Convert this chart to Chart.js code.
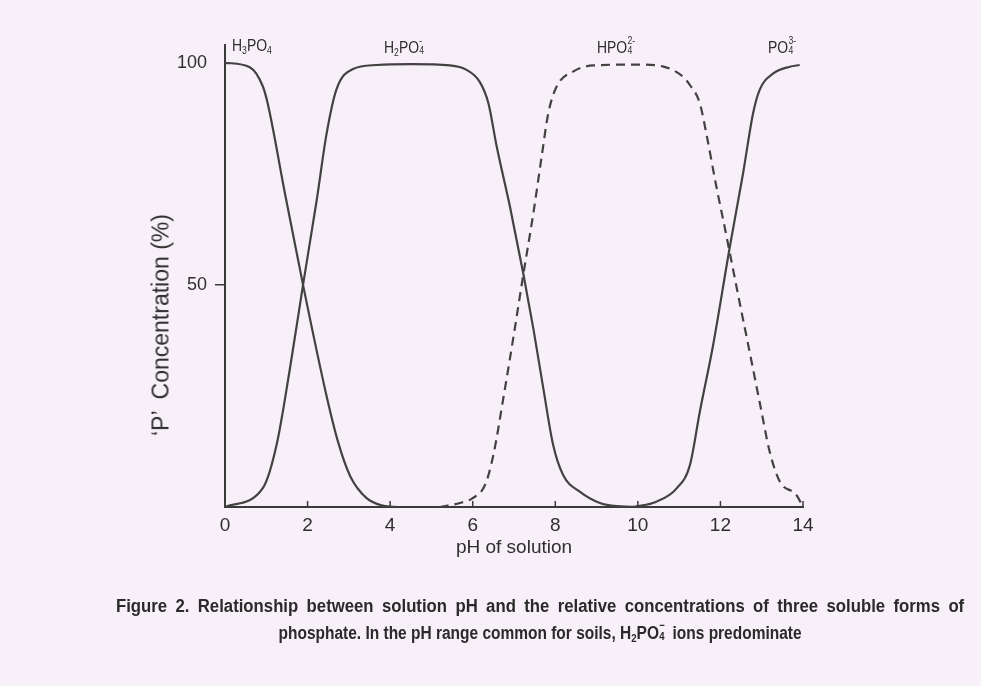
<!DOCTYPE html>
<html>
<head>
<meta charset="utf-8">
<script src="https://cdn.jsdelivr.net/npm/chart.js@4.4.1/dist/chart.umd.min.js"></script>
<style>
  html, body { margin: 0; padding: 0; }
  body { width: 981px; height: 686px; background: #f8f0f8; position: relative; overflow: hidden;
         font-family: 'Liberation Sans', Arial, sans-serif; color: #2e2e2e; }
  #chart { position: absolute; left: 0; top: 0; }
  .lbl { position: absolute; font-size: 17px; line-height: 20px; white-space: nowrap;
         transform: scaleX(0.82); transform-origin: left center; }
  .ss { display: inline-block; position: relative; width: 0.6em; height: 1em; vertical-align: baseline; }
  .ss .u, .ss .d { position: absolute; left: 0.04em; font-size: 0.62em; line-height: 1; }
  .ss .u { top: -0.12em; }
  .ss .d { top: 0.86em; }
  sub { font-size: 0.62em; line-height: 1; vertical-align: -0.3em; }
  #ytitle { position: absolute; left: 161px; top: 325px; transform: translate(-50%, -50%) rotate(-90deg);
            font-size: 23px; white-space: nowrap; }
  #ytitle .p { margin-right: 11px; }
  #caption { position: absolute; left: 0; width: 1080px; top: 593px; text-align: center;
             font-weight: bold; font-size: 18px; line-height: 27px; color: #2a2a2a; white-space: nowrap; }
  #caption .l1 { display: inline-block; transform: scaleX(0.93); word-spacing: 4px; }
  #caption .l2 { display: inline-block; transform: scaleX(0.86); }
</style>
</head>
<body>
<canvas id="chart" width="981" height="686"></canvas>

<div class="lbl" style="left:232px; top:36px;">H<sub>3</sub>PO<sub>4</sub></div>
<div class="lbl" style="left:384px; top:36px;">H<sub>2</sub>PO<span class="ss"><span class="u">-</span><span class="d">4</span></span></div>
<div class="lbl" style="left:597px; top:36px;">HPO<span class="ss"><span class="u">2-</span><span class="d">4</span></span></div>
<div class="lbl" style="left:768px; top:36px;">PO<span class="ss"><span class="u">3-</span><span class="d">4</span></span></div>

<div id="ytitle"><span class="p">‘P’</span>Concentration (%)</div>

<div id="caption"><span class="l1">Figure 2. Relationship between solution pH and the relative concentrations of three soluble forms of</span><br>
<span class="l2">phosphate. In the pH range common for soils, H<sub>2</sub>PO<span class="ss"><span class="u">−</span><span class="d">4</span></span> ions predominate</span></div>

<script>
/* ─── Data ───────────────────────────────────────────────── */
const X_TICKS = [0, 2, 4, 6, 8, 10, 12, 14];
const Y_TICKS = [50, 100];

const h3po4Ph  = [0, 0.6, 0.92, 1.04, 1.45, 1.89, 2.46, 2.74, 3.03, 3.43, 3.83, 4.2];
const h3po4Pct = [100, 99, 94.6, 90.6, 70.7, 50, 25, 14.6, 7, 2, 0.3, 0];

const h2po4Ph  = [0, 0.92, 1.25, 1.57, 1.89, 2.22, 2.46, 2.7, 3.1, 3.67, 4.5, 5.45, 5.85, 6.17, 6.38,
                  6.58, 6.9, 7.22, 7.47, 7.71, 7.95, 8.19, 8.6, 9.08, 9.5, 10.2];
const h2po4Pct = [0, 4.3, 14, 31, 50, 69, 84, 94, 98.6, 99.5, 99.7, 99.4, 98.4, 95.7, 90.9,
                  81.2, 67.7, 52.8, 40.1, 26.7, 13.9, 7.2, 3.4, 0.9, 0.2, 0];

const hpo4Ph   = [5.2, 5.69, 6.0, 6.3, 6.5, 6.74, 6.98, 7.22, 7.47, 7.67, 7.83, 8.03, 8.43, 8.92, 10.0,
                  10.6, 10.94, 11.1, 11.26, 11.5, 11.66, 11.9, 12.07, 12.21, 12.47, 12.71, 12.95, 13.2, 13.44, 13.84, 14.0];
const hpo4Pct  = [0, 0.9, 2, 5, 11.7, 24.4, 37.9, 52, 66.2, 78.9, 88.6, 94.6, 98, 99.4, 99.6,
                  99.2, 97.9, 96.8, 95.0, 90.9, 84, 72.2, 64.5, 58, 45.8, 34.8, 23.6, 12.2, 5.7, 2.7, 0];

const po4Ph    = [9.9, 10.45, 10.94, 11.26, 11.5, 11.82, 12.23, 12.55, 12.79, 12.95, 13.28, 13.68, 13.92];
const po4Pct   = [0, 1.2, 4.2, 9.4, 21.4, 36.3, 58.7, 75.2, 88.6, 93.9, 97.6, 99.1, 99.5];

/* ─── Styles ─────────────────────────────────────────────── */
const AXIS  = '#3a3a3a';
const LINE  = '#424242';
const TEXT  = '#2e2e2e';
const FONT  = 'Liberation Sans';

const pts = (xs, ys) => xs.map((x, i) => ({ x, y: ys[i] }));

function series(label, xs, ys, dash) {
  return {
    label,
    data: pts(xs, ys),
    borderColor: LINE,
    borderWidth: 2.2,
    borderDash: dash || [],
    pointRadius: 0,
    fill: false,
    cubicInterpolationMode: 'monotone'
  };
}

/* ─── Inward x ticks ─────────────────────────────────────── */
const innerTicks = {
  id: 'innerTicks',
  afterDraw(chart) {
    const { ctx, chartArea, scales: { x } } = chart;
    ctx.save();
    ctx.strokeStyle = AXIS;
    ctx.lineWidth = 1.5;
    X_TICKS.forEach(v => {
      if (v === 0) return;
      const px = x.getPixelForValue(v);
      ctx.beginPath();
      ctx.moveTo(px, chartArea.bottom);
      ctx.lineTo(px, chartArea.bottom - 6);
      ctx.stroke();
    });
    ctx.restore();
  }
};

new Chart(document.getElementById('chart'), {
  type: 'line',
  data: {
    datasets: [
      series('H3PO4', h3po4Ph, h3po4Pct),
      series('H2PO4-', h2po4Ph, h2po4Pct),
      series('HPO4 2-', hpo4Ph, hpo4Pct, [9, 6]),
      series('PO4 3-', po4Ph, po4Pct)
    ]
  },
  options: {
    responsive: false,
    animation: false,
    layout: { padding: { left: 0, right: 178, top: 45, bottom: 127 } },
    plugins: { legend: { display: false }, tooltip: { enabled: false } },
    scales: {
      x: {
        type: 'linear', min: 0, max: 14,
        afterFit(s) { s.height = 52; },
        afterBuildTicks(s) { s.ticks = X_TICKS.map(v => ({ value: v })); },
        grid: { drawOnChartArea: false, drawTicks: false },
        border: { color: AXIS, width: 2 },
        ticks: { color: TEXT, padding: 7, font: { family: FONT, size: 19 } },
        title: { display: true, text: 'pH of solution', color: TEXT, padding: 0,
                 font: { family: FONT, size: 19 } }
      },
      y: {
        type: 'linear', min: 0, max: 104,
        afterFit(s) { s.width = 225; },
        afterBuildTicks(s) { s.ticks = Y_TICKS.map(v => ({ value: v })); },
        grid: {
          drawOnChartArea: false, tickLength: 10, lineWidth: 1.5,
          color: c => (c.tick && c.tick.value === 50 ? AXIS : 'rgba(0,0,0,0)')
        },
        border: { color: AXIS, width: 2 },
        ticks: { color: TEXT, padding: 8, font: { family: FONT, size: 18 } }
      }
    }
  },
  plugins: [innerTicks]
});
</script>
</body>
</html>
